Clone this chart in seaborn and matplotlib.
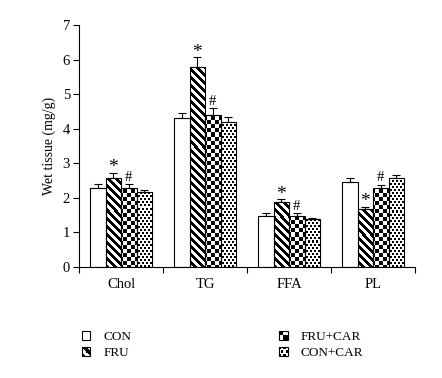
import numpy as np
import pandas as pd
import seaborn as sns
import matplotlib.pyplot as plt
from matplotlib.legend_handler import HandlerBase
from matplotlib.patches import Patch, Rectangle
from matplotlib.image import BboxImage
from matplotlib.transforms import Bbox, TransformedBbox

# Lipid content of wet tissue (mg/g), mean and upper error per group.
lipids = ["Chol", "TG", "FFA", "PL"]
groups = ["CON", "FRU", "FRU+CAR", "CON+CAR"]
con = [2.28, 4.30, 1.48, 2.47]
fru = [2.58, 5.79, 1.89, 1.68]
fru_car = [2.28, 4.38, 1.48, 2.28]
con_car = [2.18, 4.19, 1.39, 2.58]
con_err = [0.12, 0.15, 0.07, 0.10]
fru_err = [0.15, 0.27, 0.07, 0.06]
fru_car_err = [0.11, 0.21, 0.07, 0.10]
con_car_err = [0.05, 0.14, 0.03, 0.09]
sig_marks = {"FRU": "*", "FRU+CAR": "#"}

kinds = ["plain", "stripes", "checker", "dots"]
errs = [con_err, fru_err, fru_car_err, con_car_err]


def texture(kind, h, w):
    # black/white fill patterns, in pixels
    r, c = np.mgrid[0:h, 0:w]
    if kind == "stripes":
        black = (c - r) % 8 < 4
    elif kind == "checker":
        black = (r // 4 + c // 4) % 2 == 0
    elif kind == "dots":
        black = (r % 3 < 2) & ((c + (r // 3 % 2) * 2) % 4 < 2)
    else:
        black = np.zeros((h, w), bool)
    img = np.where(black, 0.0, 1.0)
    return np.dstack([img, img, img])


class TextureHandler(HandlerBase):
    def __init__(self, kind):
        super().__init__()
        self.kind = kind

    def create_artists(self, legend, orig_handle, xdescent, ydescent,
                       width, height, fontsize, trans):
        box = TransformedBbox(Bbox.from_bounds(-xdescent, -ydescent, width, height), trans)
        img = BboxImage(box, interpolation="nearest")
        img.set_data(texture(self.kind, 8, 8))
        img.set_clip_on(False)
        edge = Rectangle((-xdescent, -ydescent), width, height, facecolor="none",
                         edgecolor="black", linewidth=0.8, transform=trans)
        return [img, edge]


sns.set_style("ticks", {"axes.edgecolor": "black", "xtick.color": "black",
                        "ytick.color": "black", "text.color": "black",
                        "axes.labelcolor": "black"})
plt.rcParams["font.family"] = ["Liberation Serif", "DejaVu Serif"]

df = pd.DataFrame({
    "lipid": lipids * 4,
    "group": np.repeat(groups, 4),
    "value": con + fru + fru_car + con_car,
})

fig = plt.figure(figsize=(4.42, 3.78), dpi=100)
ax = fig.add_axes([0.179, 0.294, 0.760, 0.640])
sns.barplot(data=df, x="lipid", y="value", hue="group", order=lipids, hue_order=groups,
            palette=["white"] * 4, saturation=1, edgecolor="black", linewidth=0.8,
            width=0.74, errorbar=None, legend=False, ax=ax)

ax.set_xlim(-0.5, 3.5)
ax.set_ylim(0, 7)
x0, x1 = ax.get_xlim()
y0, y1 = ax.get_ylim()
pos = ax.get_position()
W = int(round(pos.width * fig.get_figwidth() * fig.dpi))
H = int(round(pos.height * fig.get_figheight() * fig.dpi))

for cont, kind, err, g in zip(ax.containers, kinds, errs, groups):
    tex = texture(kind, H, W)
    xs, tops = [], []
    for bar in cont:
        bar.set_facecolor("none")
        bar.set_zorder(3)
        if kind != "plain":
            im = ax.imshow(tex, extent=(x0, x1, y0, y1), aspect="auto",
                           interpolation="nearest", zorder=2)
            im.set_clip_path(bar)
        xs.append(bar.get_x() + bar.get_width() / 2)
        tops.append(bar.get_height())
    ax.errorbar(xs, tops, yerr=[np.zeros(len(err)), err], fmt="none", ecolor="black",
                elinewidth=0.8, capsize=3, capthick=0.8, zorder=4)
    if g in sig_marks:
        star = sig_marks[g] == "*"
        for x, t, e in zip(xs, tops, err):
            ax.annotate(sig_marks[g], (x, t + e), xytext=(0, -2.5 if star else 0.5),
                        textcoords="offset points", ha="center", va="bottom",
                        fontsize=14 if star else 10.5)

ax.set_xlim(x0, x1)
ax.set_ylim(y0, y1)
ax.set_xticks(range(len(lipids)))
ax.set_xticklabels(lipids)
ax.set_xticks(np.arange(-0.5, len(lipids), 1.0), minor=True)
ax.tick_params(axis="x", which="major", length=0, pad=8, labelsize=10.5)
ax.tick_params(axis="x", which="minor", length=4.5, width=0.8, direction="out")
ax.tick_params(axis="y", length=4.5, width=0.8, labelsize=10.5, pad=2)
for side in ["left", "bottom"]:
    ax.spines[side].set_linewidth(0.8)
sns.despine(ax=ax)
ax.set_xlabel("")
ax.set_ylabel("Wet tissue (mg/g)", fontsize=10, labelpad=5)

handles = [Patch(label=g) for g in groups]
fig.legend(handles=handles, labels=groups,
           handler_map={h: TextureHandler(k) for h, k in zip(handles, kinds)},
           ncol=2, loc="upper left", bbox_to_anchor=(0.185, 0.125), frameon=False,
           fontsize=9.5, handlelength=0.65, handleheight=0.65, handletextpad=1.0,
           columnspacing=11.2, labelspacing=0.35, borderpad=0, borderaxespad=0)

fig.savefig("out.png", dpi=100)
